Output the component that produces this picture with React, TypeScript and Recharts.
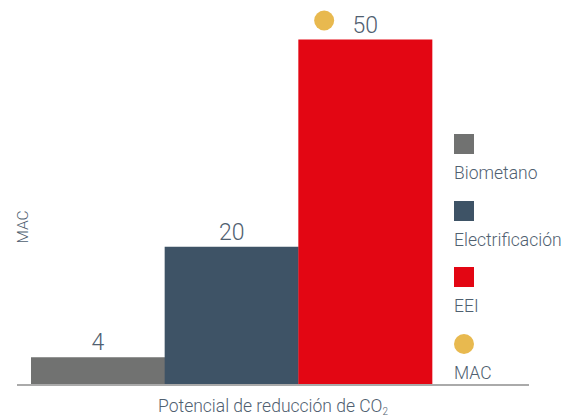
import React from 'react';
import { ComposedChart, Bar, Scatter, XAxis, YAxis, Cell, LabelList, Legend, Label } from 'recharts';

const categories = ['Biometano', 'Electrificación', 'EEI'];
const barValues = [4, 20, 50];
const macValues: (number | null)[] = [null, null, 52.75];
const seriesColors = ['#717271', '#3e5366', '#e30613'];
const macColor = '#e8b94f';
const legendLabels = ['Biometano', 'Electrificación', 'EEI', 'MAC'];
const legendColors = ['#717271', '#3e5366', '#e30613', '#e8b94f'];
const xAxisTitle = 'Potencial de reducción de CO';
const xAxisSub = '2';
const yAxisTitle = 'MAC';

const textColor = '#506070';
const fontFamily = 'Roboto, sans-serif';

const data = categories.map((c, i) => ({ name: c, value: barValues[i], mac: macValues[i] }));

const renderLegend = () => (
  <div style={{ fontFamily, fontWeight: 300, fontSize: 17.5, color: textColor }}>
    {legendLabels.map((l, i) => (
      <div key={l} style={{ height: 66.5 }}>
        <div
          style={{
            width: 20,
            height: 20,
            background: legendColors[i],
            borderRadius: i === 3 ? '50%' : 0,
          }}
        />
        <div style={{ marginTop: 11, lineHeight: 1, whiteSpace: 'nowrap' }}>{l}</div>
      </div>
    ))}
  </div>
);

const XTitle = (props: any) => {
  const vb = props.viewBox;
  return (
    <text
      x={vb.x + vb.width / 2}
      y={vb.y + 27}
      textAnchor="middle"
      fill={textColor}
      fontSize={17.5}
      fontWeight={300}
      fontFamily={fontFamily}
    >
      {xAxisTitle}
      <tspan fontSize={10} dy={3}>{xAxisSub}</tspan>
    </text>
  );
};

const YTitle = (props: any) => {
  const vb = props.viewBox;
  const x = vb.x + vb.width + 6;
  const y = vb.y + vb.height / 2 + 32;
  return (
    <text
      x={x}
      y={y}
      transform={`rotate(-90 ${x} ${y})`}
      textAnchor="middle"
      dominantBaseline="central"
      fill={textColor}
      fontSize={15.5}
      fontWeight={300}
      fontFamily={fontFamily}
    >
      {yAxisTitle}
    </text>
  );
};

const MacDot = (props: any) => {
  if (props.payload == null || props.payload.mac == null || !isFinite(props.cy)) return null;
  return <circle cx={props.cx - 41} cy={props.cy} r={10} fill={macColor} />;
};

export default function App() {
  return (
    <div style={{ position: 'absolute', left: 0, top: 0, width: 574, height: 417, background: '#fff' }}>
      <ComposedChart
        width={574}
        height={417}
        data={data}
        margin={{ top: 5, right: 45, bottom: 0, left: 0 }}
        barCategoryGap={0}
        barGap={0}
      >
        <XAxis
          dataKey="name"
          tick={false}
          tickLine={false}
          axisLine={{ stroke: '#aaaaaa', strokeWidth: 2 }}
          padding={{ left: 14, right: 97 }}
          height={32}
        >
          <Label content={<XTitle />} />
        </XAxis>
        <YAxis
          width={17}
          domain={[0, 55]}
          tick={false}
          tickLine={false}
          axisLine={false}
        >
          <Label content={<YTitle />} />
        </YAxis>
        <Bar dataKey="value" isAnimationActive={false}>
          {data.map((d, i) => (
            <Cell key={d.name} fill={seriesColors[i]} />
          ))}
          <LabelList
            dataKey="value"
            position="top"
            offset={7}
            fill={textColor}
            fontSize={23}
            fontWeight={300}
            fontFamily={fontFamily}
          />
        </Bar>
        <Scatter dataKey="mac" isAnimationActive={false} shape={<MacDot />} />
        <Legend
          layout="vertical"
          align="center"
          verticalAlign="middle"
          content={renderLegend}
          wrapperStyle={{ position: 'absolute', left: 454, top: 134, width: 120 }}
        />
      </ComposedChart>
    </div>
  );
}
